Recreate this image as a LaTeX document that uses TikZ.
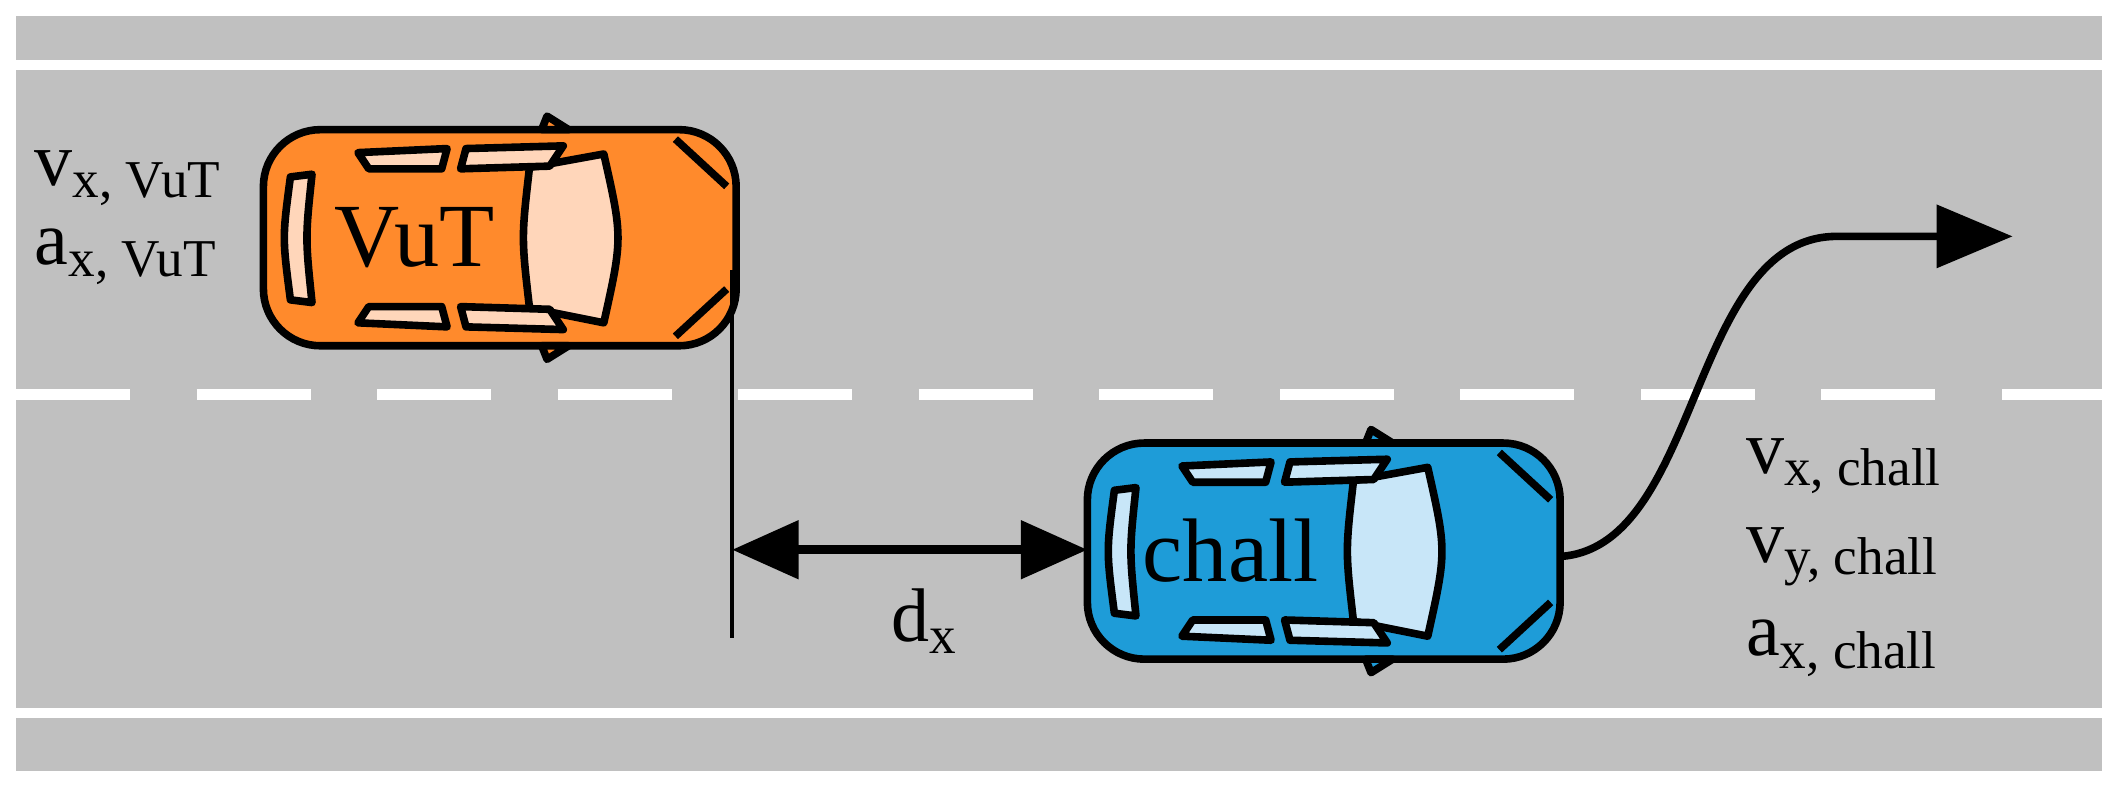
\documentclass[tikz,border=0pt]{standalone}
\usepackage{fontspec}
\setmainfont{Liberation Serif}
\usetikzlibrary{arrows.meta}
\tikzset{
  lbl/.style={font=\fontsize{16}{16}\selectfont, anchor=west, inner sep=0},
  carname/.style={font=\fontsize{19}{19}\selectfont, inner sep=0},
  carline/.style={draw=black, line width=1.6pt, line join=round},
  pics/car/.style n args={2}{code={
    \path[carline, fill=#1, rounded corners=12pt] (0,0) rectangle (350,160);
    \path[carline] (305,7) -- (343,42) (305,153) -- (343,118);
    \path[carline, fill=#2] (20,35) .. controls (14,80) .. (20,126) -- (36,128) .. controls (31,80) .. (36,33) -- cycle;
    \path[carline, fill=#2] (197,28) -- (252,18) .. controls (266,80) .. (252,143) -- (197,132) .. controls (191,80) .. (197,28) -- cycle;
    \path[carline, fill=#2] (70,17) -- (136,14) -- (132,29) -- (78,29) -- cycle;
    \path[carline, fill=#2] (150,14) -- (222,12) -- (212,27) -- (146,29) -- cycle;
    \path[carline, fill=#2] (70,143) -- (136,146) -- (132,131) -- (78,131) -- cycle;
    \path[carline, fill=#2] (150,146) -- (222,148) -- (212,133) -- (146,131) -- cycle;
    \path[carline, fill=#1] (206,0) -- (210,-10) -- (226,0) -- cycle;
    \path[carline, fill=#1] (206,160) -- (210,170) -- (226,160) -- cycle;
  }}
}
\definecolor{road}{HTML}{C0C0C0}
\definecolor{vut}{HTML}{FF8A2C}
\definecolor{vutl}{HTML}{FFD6BA}
\definecolor{chl}{HTML}{1E9CD8}
\definecolor{chll}{HTML}{C8E6F8}
\begin{document}
\begin{tikzpicture}[x=0.01cm, y=-0.01cm]
\useasboundingbox (0,0) rectangle (1568,583);
\fill[white] (0,0) rectangle (1568,583);
\fill[road] (12,12) rectangle (1556,571);
\draw[white, line width=2.2pt] (12,48) -- (1556,48);
\draw[white, line width=2.2pt] (12,528) -- (1556,528);
\draw[white, line width=2.2pt, dash pattern=on 24pt off 14pt] (12,292) -- (1556,292);

\pic at (195,96) {car={vut}{vutl}};
\node[carname] (vutn) at (307,176) {VuT};
\pic at (805,328) {car={chl}{chll}};
\node[carname] (chn) at (911,408) {chall};

\coordinate (vfront) at (542,200);
\coordinate (vbot) at (542,472);
\coordinate (cback) at (805,407);
\coordinate (cfront) at (1155,412);
\coordinate (tip) at (1490,175);
\draw[line width=1pt] (vfront) -- (vbot);
\draw[line width=1.8pt, {Triangle[length=14pt,width=12pt]}-{Triangle[length=14pt,width=12pt]}] (542,407) -- (cback);
\node[lbl, anchor=center] (dx) at (685,460) {d\textsubscript{x}};
\draw[line width=1.6pt, -{Triangle[length=16pt,width=13pt]}] (cfront) .. controls (1260,405) and (1250,175) .. (1360,175) -- (tip);

\node[lbl] (vxv) at (25,132) {v\textsubscript{x, VuT}};
\node[lbl] (axv) at (25,190) {a\textsubscript{x, VuT}};
\node[lbl] (vxc) at (1292,345) {v\textsubscript{x, chall}};
\node[lbl] (vyc) at (1292,412) {v\textsubscript{y, chall}};
\node[lbl] (axc) at (1292,480) {a\textsubscript{x, chall}};
\end{tikzpicture}
\end{document}
